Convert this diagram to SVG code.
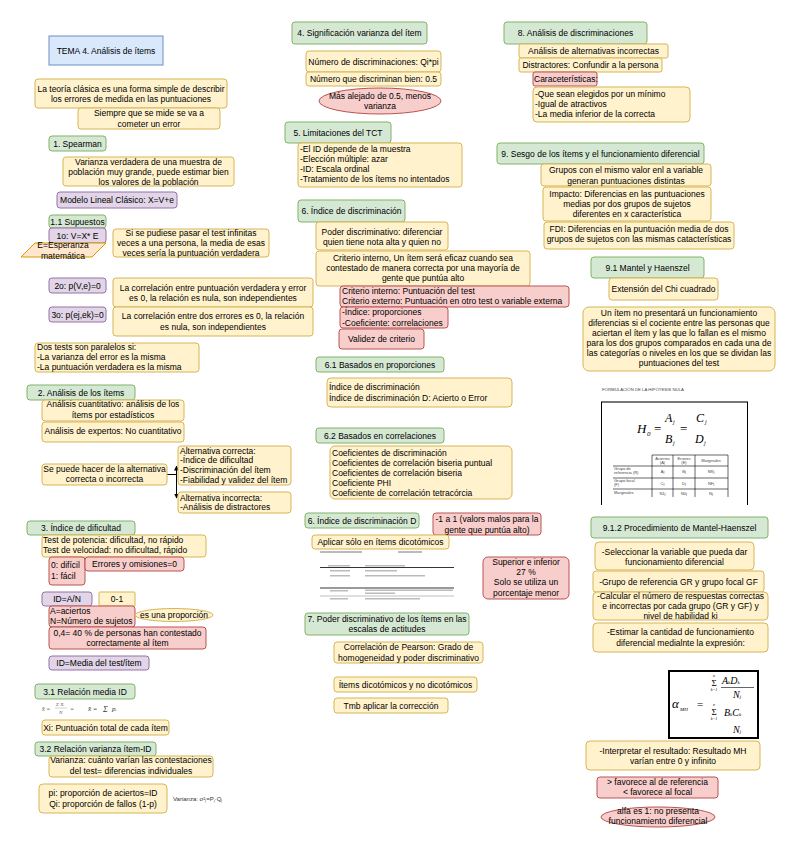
<svg xmlns="http://www.w3.org/2000/svg" width="796" height="848" viewBox="0 0 796 848">
<style>
text{font-family:"Liberation Sans",Arial,sans-serif;font-size:8.5px;fill:#000}
.m{text-anchor:middle}
.g{fill:#d5e8d4;stroke:#82b366;stroke-width:1}
.y{fill:#fff2cc;stroke:#d6b656;stroke-width:1}
.r{fill:#f8cecc;stroke:#b85450;stroke-width:1}
.p{fill:#e1d5e7;stroke:#9673a6;stroke-width:1}
.b{fill:#dae8fc;stroke:#6c8ebf;stroke-width:1}
.o{fill:#ffe6cc;stroke:#d79b00;stroke-width:1}
.f{font-family:"Liberation Serif","Times New Roman",serif;font-style:italic}
.tiny{font-size:4px;fill:#444}
.bl{fill:#bbb}
.edge{fill:none;stroke:#000;stroke-width:1}
</style>
<defs>
<marker id="arr" viewBox="0 0 10 10" refX="9" refY="5" markerWidth="5" markerHeight="5" orient="auto">
<path d="M0,0 L10,5 L0,10 z" fill="#000"/>
</marker>
</defs>
<rect width="796" height="848" fill="#fff"/>

<g id="connectors">
<path class="edge" d="M167,474.5 H176.5 V466" marker-end="url(#arr)"/>
<path class="edge" d="M167,474.5 H176.5 V498" marker-end="url(#arr)"/>
</g>

<!-- Column 1 -->
<g id="title"><rect class="b" x="49" y="36" width="114" height="29"/><text class="m" x="106" y="53.5">TEMA 4. Análisis de ítems</text></g>
<g id="teoria"><rect class="y" x="35" y="79" width="192" height="29" rx="3"/><text class="m" x="131" y="91.5">La teoría clásica es una forma simple de describir</text><text class="m" x="131" y="102">los errores de medida en las puntuaciones</text></g>
<g id="siempre"><rect class="y" x="78" y="108" width="142" height="21" rx="3"/><text class="m" x="149" y="115.7">Siempre que se mide se va a</text><text class="m" x="149" y="126.7">cometer un error</text></g>
<g id="spearman"><rect class="g" x="49" y="136" width="57" height="15" rx="3"/><text class="m" x="77.5" y="146.5">1. Spearman</text></g>
<g id="vverdadera"><rect class="y" x="63" y="157" width="171" height="29" rx="3"/><text class="m" x="148.5" y="164.7">Varianza verdadera de una muestra de</text><text class="m" x="148.5" y="174.7">población muy grande, puede estimar bien</text><text class="m" x="148.5" y="184.7">los valores de la población</text></g>
<g id="modelo"><rect class="p" x="57" y="192" width="120" height="16" rx="3"/><text class="m" x="117" y="203">Modelo Lineal Clásico: X=V+e</text></g>
<g id="supuestos"><rect class="g" x="49" y="215" width="57" height="13" rx="3"/><text class="m" x="77.5" y="224.5">1.1 Supuestos</text></g>
<g id="s1"><rect class="p" x="49" y="228" width="57" height="15" rx="3"/><text class="m" x="77.5" y="238.5">1o: V=X* E</text></g>
<g id="esperanza"><polygon class="o" points="35,243 106,243 92,257 21,257"/><text class="m" x="63" y="248">E=Esperanza</text><text class="m" x="63" y="258.5">matemática</text></g>
<g id="infinitas"><rect class="y" x="113" y="229" width="156" height="28" rx="3"/><text class="m" x="191" y="236.3">Si se pudiese pasar el test infinitas</text><text class="m" x="191" y="246.3">veces a una persona, la media de esas</text><text class="m" x="191" y="256.3">veces sería la puntuación verdadera</text></g>
<g id="s2"><rect class="p" x="49" y="278" width="57" height="15" rx="3"/><text class="m" x="77.5" y="288.5">2o: p(V,e)=0</text></g>
<g id="correl1"><rect class="y" x="113" y="278" width="200" height="29" rx="3"/><text class="m" x="213" y="291.3">La correlación entre puntuación verdadera y error</text><text class="m" x="213" y="301.3">es 0, la relación es nula, son independientes</text></g>
<g id="s3"><rect class="p" x="49" y="307" width="57" height="15" rx="3"/><text class="m" x="77.5" y="317.5">3o: p(ej,ek)=0</text></g>
<g id="correl2"><rect class="y" x="113" y="307" width="200" height="29" rx="3"/><text class="m" x="213" y="319">La correlación entre dos errores es 0, la relación</text><text class="m" x="213" y="329.5">es nula, son independientes</text></g>
<g id="paralelos"><rect class="y" x="35" y="343" width="164" height="29" rx="3"/><text x="37" y="349.7">Dos tests son paralelos si:</text><text x="37" y="359.7">-La varianza del error es la misma</text><text x="37" y="369.7">-La puntuación verdadera es la misma</text></g>
<g id="analisis"><rect class="g" x="27" y="385" width="108" height="15" rx="3"/><text class="m" x="81" y="395.5">2. Análisis de los ítems</text></g>
<g id="cuantitativo"><rect class="y" x="42" y="400" width="142" height="21" rx="3"/><text class="m" x="113" y="407.3">Análisis cuantitativo: análisis de los</text><text class="m" x="113" y="418">ítems por estadísticos</text></g>
<g id="expertos"><rect class="y" x="42" y="422" width="142" height="20" rx="3"/><text class="m" x="113" y="434">Análisis de expertos: No cuantitativo</text></g>
<g id="sepuede"><rect class="y" x="42" y="464" width="125" height="21" rx="3"/><text class="m" x="104.5" y="472">Se puede hacer de la alternativa</text><text class="m" x="104.5" y="482.3">correcta o incorrecta</text></g>
<g id="altcorrecta"><rect class="y" x="178" y="446" width="113" height="39" rx="3"/><text x="180" y="453.5">Alternativa correcta:</text><text x="180" y="463">-Índice de dificultad</text><text x="180" y="473">-Discriminación del ítem</text><text x="180" y="483">-Fiabilidad y validez del ítem</text></g>
<g id="altincorrecta"><rect class="y" x="178" y="492" width="113" height="21" rx="3"/><text x="180" y="500.5">Alternativa incorrecta:</text><text x="180" y="510">-Análisis de distractores</text></g>
<g id="dificultad"><rect class="g" x="27" y="521" width="108" height="14" rx="3"/><text class="m" x="81" y="531">3. Índice de dificultad</text></g>
<g id="potencia"><rect class="y" x="42" y="535" width="164" height="22" rx="3"/><text x="43" y="543">Test de potencia: dificultad, no rápido</text><text x="43" y="553">Test de velocidad: no dificultad, rápido</text></g>
<g id="dificil"><rect class="r" x="49" y="557" width="36" height="28" rx="3"/><text x="51" y="568">0: difícil</text><text x="51" y="579">1: fácil</text></g>
<g id="errores"><rect class="r" x="85" y="557" width="99" height="14" rx="3"/><text class="m" x="134.5" y="567">Errores y omisiones=0</text></g>
<g id="idan"><rect class="p" x="42" y="592" width="50" height="14" rx="3"/><text class="m" x="67" y="602">ID=A/N</text></g>
<g id="rango"><rect class="y" x="99" y="592" width="36" height="14" rx="1"/><text class="m" x="117" y="602">0-1</text></g>
<g id="aciertos"><rect class="r" x="49" y="606" width="86" height="21" rx="3"/><text x="50" y="613.5">A=aciertos</text><text x="50" y="624">N=Número de sujetos</text></g>
<g id="proporcion"><ellipse class="y" cx="174" cy="615" rx="39" ry="6.5"/><text class="m" x="174" y="618">es una proporción</text></g>
<g id="cuarenta"><rect class="r" x="49" y="627" width="157" height="22" rx="3"/><text class="m" x="127.5" y="636">0,4= 40 % de personas han contestado</text><text class="m" x="127.5" y="645.5">correctamente al ítem</text></g>
<g id="idmedia"><rect class="p" x="49" y="656" width="100" height="14" rx="3"/><text class="m" x="99" y="666">ID=Media del test/ítem</text></g>
<g id="relmedia"><rect class="g" x="35" y="684" width="100" height="15" rx="3"/><text class="m" x="85" y="694.5">3.1 Relación media ID</text></g>
<g id="formula31">
<text class="f" x="42" y="711" style="font-size:6px;fill:#555">x̄ =</text>
<text class="f" x="56" y="706" style="font-size:5px;fill:#555">Σ Xᵢ</text>
<line x1="55" y1="708" x2="67" y2="708" stroke="#888" stroke-width="0.4"/>
<text class="f" x="59" y="714" style="font-size:5px;fill:#555">N</text>
<text class="f" x="70" y="711" style="font-size:6px;fill:#555">=</text>
<text class="f" x="88" y="711" style="font-size:7px;fill:#333">x̄ =</text>
<text class="f" x="103" y="712" style="font-size:8px;fill:#333">Σ</text>
<text class="f" x="112" y="711" style="font-size:7px;fill:#333">pᵢ</text>
</g>
<g id="xi"><rect class="y" x="42" y="720" width="127" height="15" rx="3"/><text class="m" x="105.5" y="730.5">Xi: Puntuación total de cada ítem</text></g>
<g id="relvar"><rect class="g" x="35" y="742" width="121" height="14" rx="3"/><text class="m" x="95.5" y="752">3.2 Relación varianza ítem-ID</text></g>
<g id="varianza"><rect class="y" x="49" y="756" width="164" height="21" rx="3"/><text class="m" x="131" y="763">Varianza: cuánto varían las contestaciones</text><text class="m" x="131" y="774">del test= diferencias individuales</text></g>
<g id="pi"><rect class="y" x="39" y="784" width="128" height="29" rx="4"/><text class="m" x="103" y="796.3">pi: proporción de aciertos=ID</text><text class="m" x="103" y="807.3">Qi: proporción de fallos (1-p)</text></g>
<g id="formula32"><text x="173" y="801" style="font-size:6px;fill:#333">Varianza: σ²ⱼ=Pⱼ·Qⱼ</text></g>

<!-- Column 2 -->
<g id="significacion"><rect class="g" x="292" y="22" width="135" height="22" rx="3"/><text class="m" x="359.5" y="36">4. Significación varianza del ítem</text></g>
<g id="numdisc"><rect class="y" x="306" y="51" width="135" height="21" rx="3"/><text class="m" x="373.5" y="64.5">Número de discriminaciones: Qi*pi</text></g>
<g id="numbien"><rect class="y" x="306" y="72" width="135" height="14" rx="3"/><text class="m" x="373.5" y="82">Número que discriminan bien: 0.5</text></g>
<g id="alejado"><ellipse class="r" cx="380" cy="101" rx="61" ry="13"/><text class="m" x="380" y="98.7">Más alejado de 0.5, menos</text><text class="m" x="380" y="108.7">varianza</text></g>
<g id="limitaciones"><rect class="g" x="285" y="122" width="106" height="21" rx="3"/><text class="m" x="338" y="135.5">5. Limitaciones del TCT</text></g>
<g id="limlist"><rect class="y" x="298" y="143" width="164" height="44" rx="3"/><text x="300" y="152">-El ID depende de la muestra</text><text x="300" y="162">-Elección múltiple: azar</text><text x="300" y="172">-ID: Escala ordinal</text><text x="300" y="182">-Tratamiento de los ítems no intentados</text></g>
<g id="discriminacion"><rect class="g" x="298" y="200" width="107" height="22" rx="3"/><text class="m" x="351.5" y="214">6. Índice de discriminación</text></g>
<g id="poder"><rect class="y" x="316" y="222" width="132" height="28" rx="3"/><text class="m" x="382" y="234.7">Poder discriminativo: diferenciar</text><text class="m" x="382" y="244.7">quien tiene nota alta y quien no</text></g>
<g id="criterio"><rect class="y" x="316" y="251" width="214" height="35" rx="3"/><text class="m" x="423" y="261.3">Criterio interno, Un ítem será eficaz cuando sea</text><text class="m" x="423" y="271.3">contestado de manera correcta por una mayoría de</text><text class="m" x="423" y="281.3">gente que puntúa alto</text></g>
<g id="critext"><rect class="r" x="340" y="286" width="229" height="21" rx="3"/><text x="342" y="293.7">Criterio interno: Puntuación del test</text><text x="342" y="304">Criterio externo: Puntuación en otro test o variable externa</text></g>
<g id="indcoef"><rect class="r" x="340" y="307" width="108" height="21" rx="3"/><text x="342" y="314.5">-Índice: proporciones</text><text x="342" y="325.5">-Coeficiente: correlaciones</text></g>
<g id="validez"><rect class="r" x="339" y="329" width="85" height="20" rx="3"/><text class="m" x="381.5" y="342">Validez de criterio</text></g>
<g id="proporciones"><rect class="g" x="316" y="357" width="128" height="15" rx="3"/><text class="m" x="380" y="367.5">6.1 Basados en proporciones</text></g>
<g id="indices"><rect class="y" x="327" y="378" width="185" height="29" rx="4"/><text x="329" y="389.5">Índice de discriminación</text><text x="329" y="400.5">Índice de discriminación D: Acierto o Error</text></g>
<g id="correlaciones"><rect class="g" x="316" y="428" width="128" height="15" rx="3"/><text class="m" x="380" y="438.5">6.2 Basados en correlaciones</text></g>
<g id="coeficientes"><rect class="y" x="330" y="446" width="182" height="53" rx="5"/><text x="332" y="455.7">Coeficientes de discriminación</text><text x="332" y="465.7">Coeficientes de correlación biseria puntual</text><text x="332" y="475.7">Coeficientes de correlación biseria</text><text x="332" y="485.7">Coeficiente PHI</text><text x="332" y="495.7">Coeficiente de correlación tetracórcia</text></g>
<g id="indiceD"><rect class="g" x="305" y="513" width="114" height="15" rx="3"/><text class="m" x="362" y="523.5">6. Índice de discriminación D</text></g>
<g id="rangoD"><rect class="r" x="433" y="513" width="108" height="22" rx="3"/><text class="m" x="487" y="522">-1 a 1 (valors malos para la</text><text class="m" x="487" y="533">gente que puntúa alto)</text></g>
<g id="aplicar"><rect class="y" x="312" y="535" width="137" height="14" rx="3"/><text class="m" x="380.5" y="545">Aplicar sólo en ítems dicotómicos</text></g>
<g id="tablaD">
<rect class="bl" x="320" y="551" width="42" height="2"/><rect class="bl" x="398" y="551" width="24" height="2"/>
<rect class="bl" x="328" y="565" width="22" height="1.5"/><rect class="bl" x="365" y="565" width="40" height="1.5"/>
<line x1="320" y1="567.5" x2="454" y2="567.5" stroke="#000" stroke-width="0.8"/>
<rect class="bl" x="330" y="570" width="20" height="1.5"/><rect class="bl" x="365" y="570" width="32" height="1.5"/>
<rect class="bl" x="330" y="575" width="20" height="1.5"/><rect class="bl" x="365" y="575" width="60" height="1.5"/>
<line x1="320" y1="588" x2="454" y2="588" stroke="#000" stroke-width="0.8"/>
<rect class="bl" x="330" y="590" width="18" height="1.5"/><rect class="bl" x="365" y="589.5" width="88" height="1.5"/><rect class="bl" x="365" y="592.5" width="30" height="1.5"/>
<line x1="320" y1="596" x2="454" y2="596" stroke="#999" stroke-width="0.6"/>
<rect class="bl" x="330" y="598" width="18" height="1.5"/><rect class="bl" x="365" y="598" width="55" height="1.5"/>
</g>
<g id="superior"><rect class="r" x="483" y="557" width="86" height="42" rx="5"/><text class="m" x="526" y="564.7">Superior e inferior</text><text class="m" x="526" y="574.7">27 %</text><text class="m" x="526" y="585.2">Solo se utiliza un</text><text class="m" x="526" y="596">porcentaje menor</text></g>
<g id="actitudes"><rect class="g" x="305" y="613" width="164" height="22" rx="3"/><text class="m" x="387" y="622">7. Poder discriminativo de los ítems en las</text><text class="m" x="387" y="632">escalas de actitudes</text></g>
<g id="pearson"><rect class="y" x="334" y="642" width="149" height="21" rx="3"/><text class="m" x="408.5" y="649.7">Correlación de Pearson: Grado de</text><text class="m" x="408.5" y="660.5">homogeneidad y poder discriminativo</text></g>
<g id="dicotomicos"><rect class="y" x="334" y="677" width="143" height="15" rx="3"/><text class="m" x="405.5" y="687.5">Ítems dicotómicos y no dicotómicos</text></g>
<g id="tmb"><rect class="y" x="334" y="698" width="114" height="15" rx="3"/><text class="m" x="391" y="708.5">Tmb aplicar la corrección</text></g>

<!-- Column 3 -->
<g id="discriminaciones"><rect class="g" x="504" y="22" width="143" height="22" rx="3"/><text class="m" x="575.5" y="36">8. Análisis de discriminaciones</text></g>
<g id="alternativas"><rect class="y" x="519" y="44" width="149" height="14" rx="2"/><text class="m" x="593.5" y="54">Análisis de alternativas incorrectas</text></g>
<g id="distractores"><rect class="y" x="519" y="58" width="143" height="14" rx="2"/><text class="m" x="590.5" y="68">Distractores: Confundir a la persona</text></g>
<g id="caracteristicas"><rect class="r" x="533" y="72" width="64" height="14" rx="2"/><text x="534" y="82">Caraceterísticas:</text></g>
<g id="caraclist"><rect class="y" x="533" y="87" width="157" height="35" rx="4"/><text x="535" y="97">-Que sean elegidos por un mínimo</text><text x="535" y="107">-Igual de atractivos</text><text x="535" y="117">-La media inferior de la correcta</text></g>
<g id="sesgo"><rect class="g" x="497" y="143" width="207" height="21" rx="3"/><text class="m" x="600.5" y="156.5">9. Sesgo de los ítems y el funcionamiento diferencial</text></g>
<g id="grupos"><rect class="y" x="541" y="164" width="170" height="22" rx="3"/><text class="m" x="626" y="173">Grupos con el mismo valor enl a variable</text><text class="m" x="626" y="183.5">generan puntuaciones distintas</text></g>
<g id="impacto"><rect class="y" x="543" y="187" width="168" height="34" rx="3"/><text class="m" x="627" y="197">Impacto: Diferencias en las puntuaciones</text><text class="m" x="627" y="207">medias por dos grupos de sujetos</text><text class="m" x="627" y="217">diferentes en x característica</text></g>
<g id="fdi"><rect class="y" x="544" y="222" width="190" height="27" rx="3"/><text class="m" x="639" y="232.3">FDI: Diferencias en la puntuación media de dos</text><text class="m" x="639" y="242.3">grupos de sujetos con las mismas catacterísticas</text></g>
<g id="mantel"><rect class="g" x="591" y="257" width="113" height="21" rx="3"/><text class="m" x="647.5" y="270.5">9.1 Mantel y Haenszel</text></g>
<g id="chi"><rect class="y" x="609" y="278" width="109" height="22" rx="3"/><text class="m" x="663.5" y="292">Extensión del Chi cuadrado</text></g>
<g id="unitem"><rect class="y" x="583" y="307" width="192" height="64" rx="6"/><text class="m" x="679" y="315.7">Un ítem no presentará un funcionamiento</text><text class="m" x="679" y="325.7">diferencias si el cociente entre las personas que</text><text class="m" x="679" y="335.7">aciertan el ítem y las que lo fallan es el mismo</text><text class="m" x="679" y="346">para los dos grupos comparados en cada una de</text><text class="m" x="679" y="356">las categorías o niveles en los que se dividan las</text><text class="m" x="679" y="366">puntuaciones del test</text></g>
<g id="hipotesis">
<text x="602" y="391" style="font-size:4.3px;fill:#444">FORMULACIÓN DE LA HIPÓTESIS NULA</text>
<rect x="601" y="402" width="147" height="103" fill="#fff"/>
<line x1="601" y1="402" x2="748" y2="402" stroke="#777" stroke-width="2"/>
<line x1="601.5" y1="402" x2="601.5" y2="505" stroke="#000" stroke-width="1"/>
<line x1="747.5" y1="402" x2="747.5" y2="505" stroke="#000" stroke-width="1"/>
<text class="f" x="637" y="433" style="font-size:13px">H</text><text class="f" x="647" y="436" style="font-size:7px">0</text>
<text x="654" y="433" style="font-size:13px;font-family:'Liberation Serif',serif">=</text>
<text class="f" x="665" y="422" style="font-size:12px">A</text><text class="f" x="673" y="424" style="font-size:6px">j</text>
<text class="f" x="665" y="443" style="font-size:12px">B</text><text class="f" x="673" y="445" style="font-size:6px">j</text>
<text x="680" y="433" style="font-size:13px;font-family:'Liberation Serif',serif">=</text>
<text class="f" x="696" y="422" style="font-size:12px">C</text><text class="f" x="705" y="424" style="font-size:6px">j</text>
<text class="f" x="695" y="443" style="font-size:12px">D</text><text class="f" x="704" y="445" style="font-size:6px">j</text>
<g stroke="#000" stroke-width="0.6">
<line x1="652" y1="455" x2="728" y2="455"/>
<line x1="613" y1="466" x2="728" y2="466"/>
<line x1="613" y1="478" x2="728" y2="478"/>
<line x1="613" y1="489" x2="728" y2="489"/>
<line x1="652" y1="455" x2="652" y2="497"/>
<line x1="673" y1="455" x2="673" y2="497"/>
<line x1="695" y1="455" x2="695" y2="497"/>
<line x1="728" y1="455" x2="728" y2="497"/>
</g>
<text class="tiny m" x="662.5" y="460">Aciertos</text><text class="tiny m" x="662.5" y="464">(A)</text>
<text class="tiny m" x="684" y="460">Errores</text><text class="tiny m" x="684" y="464">(E)</text>
<text class="tiny m" x="711" y="462">Marginales</text>
<text class="tiny" x="614" y="470">Grupo de</text><text class="tiny" x="614" y="474">referencia (R)</text>
<text class="tiny" x="614" y="482">Grupo focal</text><text class="tiny" x="614" y="486">(F)</text>
<text class="tiny" x="614" y="494">Marginales</text>
<text class="tiny m" x="662.5" y="473">Aj</text><text class="tiny m" x="684" y="473">Bj</text><text class="tiny m" x="711" y="473">NRj</text>
<text class="tiny m" x="662.5" y="485">Cj</text><text class="tiny m" x="684" y="485">Dj</text><text class="tiny m" x="711" y="485">NFj</text>
<text class="tiny m" x="662.5" y="495">N1j</text><text class="tiny m" x="684" y="495">N0j</text><text class="tiny m" x="711" y="495">Nj</text>
</g>
<g id="procedimiento"><rect class="g" x="591" y="517" width="177" height="21" rx="3"/><text class="m" x="679.5" y="530.5">9.1.2 Procedimiento de Mantel-Haenszel</text></g>
<g id="seleccionar"><rect class="y" x="595" y="542" width="159" height="28" rx="4"/><text class="m" x="674.5" y="554.7">-Seleccionar la variable que pueda dar</text><text class="m" x="674.5" y="565.3">funcionamiento diferencial</text></g>
<g id="gruporef"><rect class="y" x="593" y="571" width="171" height="21" rx="3"/><text class="m" x="678.5" y="584.5">-Grupo de referencia GR y grupo focal GF</text></g>
<g id="calcular"><rect class="y" x="593" y="592" width="175" height="28" rx="4"/><text class="m" x="680.5" y="598.7">-Calcular el número de respuestas correctas</text><text class="m" x="680.5" y="609">e incorrectas por cada grupo (GR y GF) y</text><text class="m" x="680.5" y="618.7">nivel de habilidad ki</text></g>
<g id="estimar"><rect class="y" x="593" y="623" width="175" height="29" rx="4"/><text class="m" x="680.5" y="635.3">-Estimar la cantidad de funcionamiento</text><text class="m" x="680.5" y="645.7">diferencial medialnte la expresión:</text></g>
<g id="alphamh">
<rect x="669" y="671" width="89" height="67" fill="#fff" stroke="#000" stroke-width="2"/>
<text class="f" x="672" y="708" style="font-size:13px">α</text><text class="f" x="680" y="711" style="font-size:5px">MH</text>
<text x="697" y="708" style="font-size:11px;font-family:'Liberation Serif',serif">=</text>
<text class="f m" x="714" y="677" style="font-size:4px">n</text>
<text class="m" x="714" y="686" style="font-size:9px;font-family:'Liberation Serif',serif">Σ</text>
<text class="f m" x="714" y="691" style="font-size:4px">k=1</text>
<text class="f" x="722" y="684" style="font-size:10px">A<tspan style="font-size:5px">k</tspan>D<tspan style="font-size:5px">k</tspan></text>
<line x1="721" y1="687.5" x2="754" y2="687.5" stroke="#000" stroke-width="0.6"/>
<text class="f" x="733" y="698" style="font-size:10px">N<tspan style="font-size:5px">j</tspan></text>
<text class="f m" x="714" y="706" style="font-size:4px">n</text>
<text class="m" x="714" y="715" style="font-size:9px;font-family:'Liberation Serif',serif">Σ</text>
<text class="f m" x="714" y="720" style="font-size:4px">k=1</text>
<text class="f" x="724" y="716" style="font-size:10px">B<tspan style="font-size:5px">k</tspan>C<tspan style="font-size:5px">k</tspan></text>
<text class="f" x="733" y="733" style="font-size:10px">N<tspan style="font-size:5px">j</tspan></text>
</g>
<g id="interpretar"><rect class="y" x="586" y="741" width="174" height="29" rx="4"/><text class="m" x="673" y="753.7">-Interpretar el resultado: Resultado MH</text><text class="m" x="673" y="764">varían entre 0 y infinito</text></g>
<g id="favorece"><rect class="r" x="597" y="777" width="121" height="21" rx="3"/><text class="m" x="657.5" y="784.7">&gt; favorece al de referencia</text><text class="m" x="657.5" y="795.3">&lt; favorece al focal</text></g>
<g id="alfa1"><ellipse class="r" cx="658" cy="817" rx="57" ry="10"/><text class="m" x="658" y="814">alfa es 1: no presenta</text><text class="m" x="658" y="824">funcionamiento diferencial</text></g>
</svg>
